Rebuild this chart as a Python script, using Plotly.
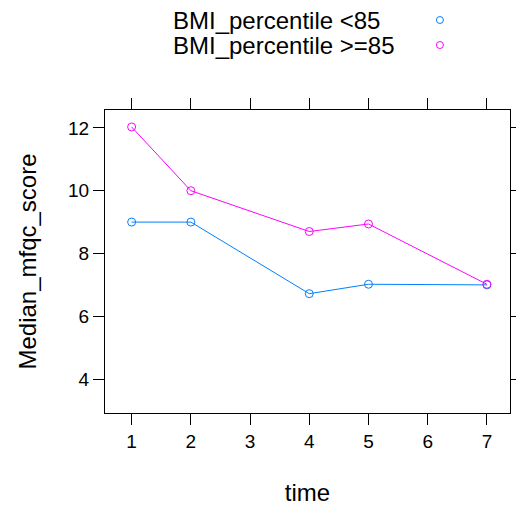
import plotly.graph_objects as go

time_low = [1, 2, 4, 5, 7]
score_low = [9.0, 9.0, 6.72, 7.02, 7.0]
time_high = [1, 2, 4, 5, 7]
score_high = [12.03, 10.0, 8.7, 8.94, 7.02]
legend_labels = ["BMI_percentile <85", "BMI_percentile >=85"]
colors = ["#0080ff", "#ff00ff"]
x_ticks = [1, 2, 3, 4, 5, 6, 7]
y_ticks = [4, 6, 8, 10, 12]

FONT = "Liberation Sans, Arial, sans-serif"

fig = go.Figure()
for xs, ys, c, name in [(time_low, score_low, colors[0], legend_labels[0]),
                        (time_high, score_high, colors[1], legend_labels[1])]:
    fig.add_trace(go.Scatter(
        x=xs, y=ys, mode="lines+markers", name=name,
        line=dict(color=c, width=1),
        marker=dict(symbol="circle-open", size=8, color=c, line=dict(width=1, color=c)),
        showlegend=False,
    ))

axis_common = dict(
    showgrid=False, zeroline=False, showline=True, linecolor="black", linewidth=1,
    mirror="ticks", ticks="outside", ticklen=11, tickwidth=1, tickcolor="black",
    tickfont=dict(family=FONT, size=19, color="black"), automargin=False,
)
fig.update_xaxes(range=[0.55, 7.39], tickvals=x_ticks,
                 title=dict(text="time", font=dict(family=FONT, size=24, color="black"), standoff=33),
                 **axis_common)
fig.update_yaxes(range=[2.92, 12.57], tickvals=y_ticks,
                 title=dict(text="Median_mfqc_score", font=dict(family=FONT, size=24, color="black"), standoff=24),
                 **axis_common)

annotations = []
shapes = []
leg_y = [1.297, 1.2145]
for lab, c, yy in zip(legend_labels, colors, leg_y):
    annotations.append(dict(
        text=lab, xref="paper", yref="paper", x=0.163, y=yy,
        xanchor="left", yanchor="middle", showarrow=False,
        font=dict(family=FONT, size=24, color="black"),
    ))
    shapes.append(dict(
        type="circle", xref="paper", yref="paper", xsizemode="pixel", ysizemode="pixel",
        xanchor=0.827, yanchor=yy, x0=-3.5, x1=3.5, y0=-3.5, y1=3.5,
        line=dict(color=c, width=1),
    ))

fig.update_layout(
    width=516, height=511,
    margin=dict(l=105, r=6, t=110, b=98),
    plot_bgcolor="white", paper_bgcolor="white",
    annotations=annotations, shapes=shapes,
    font=dict(family=FONT),
)

fig.write_html("out.html")
